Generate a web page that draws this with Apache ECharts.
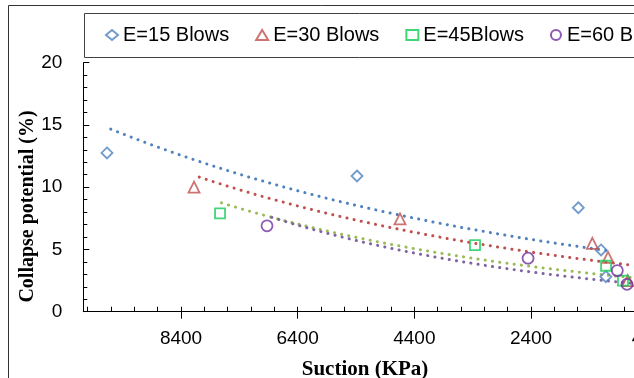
<!DOCTYPE html>
<html><head><meta charset="utf-8">
<script src="https://cdn.jsdelivr.net/npm/echarts@6/dist/echarts.min.js"></script>
<style>html,body{margin:0;padding:0;background:#fff}#c{width:634px;height:378px}</style>
</head><body><div id="c"></div>
<script>
// ---- data ----
const seriesNames = ['E=15 Blows', 'E=30 Blows', 'E=45Blows', 'E=60 Blows'];
const suction15 = [9669, 5383, 1589, 1200, 1117];
const collapse15 = [12.75, 10.9, 8.35, 4.96, 2.81];
const suction30 = [8177, 4646, 1349, 1080, 742];
const collapse30 = [10.0, 7.45, 5.49, 4.37, 2.5];
const suction45 = [7731, 3360, 1114, 824, 450];
const collapse45 = [7.9, 5.35, 3.69, 2.49, 2.1];
const suction60 = [6926, 2451, 921, 755, 450];
const collapse60 = [6.9, 4.3, 3.3, 2.2, 1.4];
const xMin = 400, xMax = 10075, xMajor = 2000, xMinor = 400;
const yMin = 0, yMax = 20, yMajor = 5;
const xTitle = 'Suction (KPa)';
const yTitle = 'Collapse potential (%)';

// ---- styling ----
const markerColors = ['#4F81BD', '#C0504D', '#11CC55', '#7030A0'];
const trendColors = ['#4F81BD', '#C0504D', '#9BBB59', '#8064A2'];
const symbols = ['diamond', 'triangle', 'rect', 'circle'];
const symSizes = [11, 11, 10, 11];
const sans = '"Liberation Sans", Arial, sans-serif';
const serif = '"Liberation Serif", "Times New Roman", serif';

function pairs(xs, ys) { return xs.map((x, i) => [x, ys[i]]); }
// Excel-style exponential trendline (least squares on ln y)
function expTrend(xs, ys) {
  const n = xs.length;
  let sx = 0, sy = 0, sxx = 0, sxy = 0;
  for (let i = 0; i < n; i++) {
    const l = Math.log(ys[i]);
    sx += xs[i]; sy += l; sxx += xs[i] * xs[i]; sxy += xs[i] * l;
  }
  const b = (n * sxy - sx * sy) / (n * sxx - sx * sx);
  const a = Math.exp((sy - b * sx) / n);
  const lo = Math.min(...xs), hi = Math.max(...xs);
  const pts = [];
  const N = 120;
  for (let k = 0; k <= N; k++) {
    const x = lo + (hi - lo) * k / N;
    pts.push([x, a * Math.exp(b * x)]);
  }
  return pts;
}

const allX = [suction15, suction30, suction45, suction60];
const allY = [collapse15, collapse30, collapse45, collapse60];

const series = [];
for (let i = 0; i < 4; i++) {
  series.push({
    name: 'trend' + i, type: 'line', data: expTrend(allX[i], allY[i]),
    showSymbol: false, symbol: 'none', silent: true, z: 1,
    lineStyle: { color: trendColors[i], width: 3, type: [0.1, 7.2], cap: 'round' }
  });
}
for (let i = 0; i < 4; i++) {
  series.push({
    name: seriesNames[i], type: 'scatter', data: pairs(allX[i], allY[i]),
    symbol: symbols[i], symbolSize: symSizes[i], z: 3,
    itemStyle: { color: 'rgba(255,255,255,0)', borderColor: markerColors[i], borderWidth: 1.8 }
  });
}

const chart = echarts.init(document.getElementById('c'), null, { renderer: 'canvas' });
chart.setOption({
  animation: false,
  backgroundColor: '#fff',
  grid: { left: 83.3, right: -13.7, top: 62.7, bottom: 66.3, containLabel: false, outerBoundsMode: 'none' },
  legend: {
    data: seriesNames, left: 105, top: 25, width: 1200, padding: 0, itemGap: 26,
    orient: 'horizontal',
    itemWidth: 12, itemHeight: 10,
    textStyle: { color: '#000', fontSize: 20, fontFamily: sans }
  },
  xAxis: [
    {
      type: 'value', inverse: true, min: xMin, max: xMax, interval: xMajor, position: 'bottom',
      axisLine: { show: true, onZero: false, lineStyle: { color: '#000', width: 1 } },
      axisTick: { show: true, inside: false, length: 7, lineStyle: { color: '#000', width: 1 } },
      minorTick: { show: false }, splitLine: { show: false },
      axisLabel: { show: true, showMaxLabel: false, margin: 18, color: '#000', fontSize: 19, fontFamily: sans,
        formatter: v => String(v) }
    },
    {
      type: 'value', inverse: true, min: xMin, max: xMax, interval: xMinor, position: 'bottom',
      axisLine: { show: false }, axisLabel: { show: false }, splitLine: { show: false },
      axisTick: { show: true, inside: true, length: 5, lineStyle: { color: '#000', width: 1 } },
      minorTick: { show: false }
    }
  ],
  yAxis: {
    type: 'value', min: yMin, max: yMax, interval: yMajor,
    axisLine: { show: true, lineStyle: { color: '#000', width: 1 } },
    axisTick: { show: true, inside: true, length: 6, lineStyle: { color: '#000', width: 1 } },
    minorTick: { show: true, splitNumber: 5, length: 4, lineStyle: { color: '#000', width: 1 } },
    splitLine: { show: false },
    axisLabel: { margin: 21, color: '#000', fontSize: 19, fontFamily: sans }
  },
  graphic: [
    { type: 'rect', silent: true, z: -10, shape: { x: 8.5, y: 5.5, width: 700, height: 500 },
      style: { fill: 'none', stroke: '#333', lineWidth: 1 } },
    { type: 'rect', silent: true, z: -5, shape: { x: 84.5, y: 13.5, width: 700, height: 44 },
      style: { fill: 'none', stroke: '#404040', lineWidth: 1 } },
    { type: 'text', x: 28, y: 206.5, rotation: Math.PI / 2, silent: true,
      style: { text: yTitle, font: 'bold 20px ' + serif, fill: '#000', textAlign: 'center', textVerticalAlign: 'middle', verticalAlign: 'middle' } },
    { type: 'text', x: 365, y: 369.5, silent: true,
      style: { text: xTitle, font: 'bold 21px ' + serif, fill: '#000', textAlign: 'center', textVerticalAlign: 'middle', verticalAlign: 'middle' } }
  ],
  series: series
});
</script>
</body></html>
